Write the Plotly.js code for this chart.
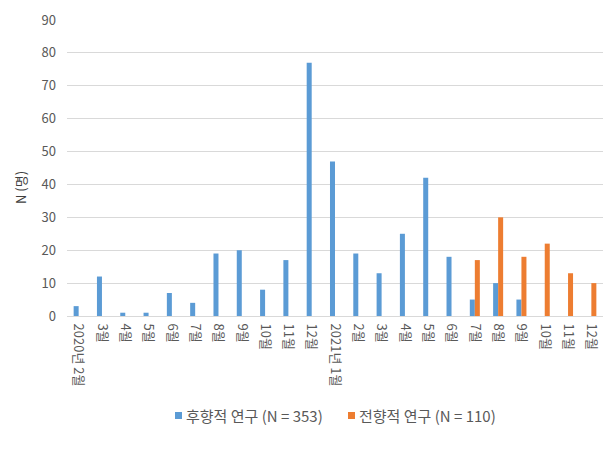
<!DOCTYPE html>
<html>
<head>
<meta charset="utf-8">
<script src="https://cdn.plot.ly/plotly-3.0.1.min.js"></script>
<style>html,body{margin:0;padding:0;background:#fff;}#chart{width:614px;height:450px;}</style>
</head>
<body>
<div id="chart"></div>
<script>
const categories = ["2020년 2월","3월","4월","5월","6월","7월","8월","9월","10월","11월","12월",
  "2021년 1월","2월","3월","4월","5월","6월","7월","8월","9월","10월","11월","12월"];
const retroValues = [3,12,1,1,7,4,19,20,8,17,77,47,19,13,25,42,18,5,10,5,null,null,null];
const prospValues = [null,null,null,null,null,null,null,null,null,null,null,null,null,null,null,null,null,17,30,18,22,13,10];
const seriesNames = ["후향적 연구 (N = 353)","전향적 연구 (N = 110)"];
const seriesColors = ['#5b9bd5','#ed7d31'];
const yTicks = [0,10,20,30,40,50,60,70,80,90];

const idx = categories.map((c,i)=>i);
const font = "'Noto Sans CJK KR', 'Noto Sans', sans-serif";

const W = 614, H = 450, L = 67, R = 11, T = 20, B = 134;
const pw = W - L - R, ph = H - T - B;
const px = v => (v - L) / pw;          // pixel -> paper x
const py = v => (H - B - v) / ph;      // pixel -> paper y

const data = [
  {type:'bar', x: idx, y: retroValues, name: seriesNames[0], marker:{color:seriesColors[0]}},
  {type:'bar', x: idx, y: prospValues, name: seriesNames[1], marker:{color:seriesColors[1]}}
];

// custom legend (small squares + text)
const legendItems = [{sx:175, tx:184}, {sx:348, tx:357}];
const shapes = legendItems.map((it,i)=>({type:'rect', xref:'paper', yref:'paper',
  x0:px(it.sx), x1:px(it.sx+7), y0:py(419), y1:py(412), fillcolor:seriesColors[i], line:{width:0}}));
const annotations = legendItems.map((it,i)=>({xref:'paper', yref:'paper', x:px(it.tx), y:py(415),
  xanchor:'left', yanchor:'middle', showarrow:false, text:seriesNames[i], font:{size:15, color:'#595959'}}));
annotations.push({xref:'paper', yref:'paper', x:px(20), y:py(188), xanchor:'center', yanchor:'middle',
  textangle:-90, showarrow:false, text:'N (명)', font:{size:13, color:'#404040'}});

const layout = {
  width:W, height:H,
  margin:{l:L, r:R, t:T, b:B},
  paper_bgcolor:'#fff', plot_bgcolor:'#fff',
  font:{family:font, size:12, color:'#595959'},
  barmode:'group', bargap:0.57, bargroupgap:0,
  showlegend:false,
  shapes: shapes,
  annotations: annotations,
  xaxis:{tickmode:'array', tickvals: idx, ticktext: categories, tickangle:90, range:[-0.5, categories.length-0.5],
    showline:true, linecolor:'#d9d9d9', linewidth:1, ticks:'', showgrid:false, zeroline:false,
    ticklabelstandoff:4, tickfont:{size:13, color:'#595959'}, automargin:false},
  yaxis:{range:[0,90], tickmode:'array', tickvals:yTicks, showgrid:true, gridcolor:'#d9d9d9', gridwidth:1,
    zeroline:false, showline:false, ticks:'', ticklabelstandoff:10, tickfont:{size:13, color:'#595959'}, automargin:false}
};
Plotly.newPlot('chart', data, layout, {displayModeBar:false, staticPlot:true});
</script>
</body>
</html>
